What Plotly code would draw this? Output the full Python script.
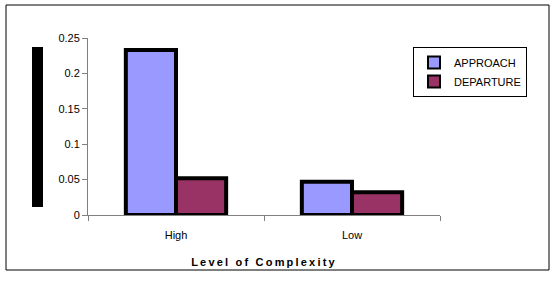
import plotly.graph_objects as go

categories = ["High", "Low"]
approach = [0.233, 0.047]
departure = [0.052, 0.032]
yticks = [0, 0.05, 0.1, 0.15, 0.2, 0.25]
ytick_labels = ["0", "0.05", "0.1", "0.15", "0.2", "0.25"]

fig = go.Figure()
fig.add_bar(x=categories, y=approach, name="APPROACH",
            marker=dict(color="#9999FF", line=dict(color="black", width=4)))
fig.add_bar(x=categories, y=departure, name="DEPARTURE",
            marker=dict(color="#993366", line=dict(color="black", width=4)))

fig.update_layout(
    width=554, height=300,
    margin=dict(l=88, r=114, t=38, b=85, autoexpand=False),
    paper_bgcolor="white", plot_bgcolor="white",
    barmode="group", bargap=0.43, bargroupgap=0,
    font=dict(family="Liberation Sans, Arial", size=11, color="black"),
    showlegend=True,
    legend=dict(x=(413-88)/352, y=(215-47)/177, xanchor="left", yanchor="top",
                bordercolor="black", borderwidth=1, bgcolor="white",
                font=dict(size=11), itemsizing="constant", itemwidth=30,
                tracegroupgap=2),
    xaxis=dict(showline=True, linecolor="#808080", linewidth=1,
               ticks="outside", tickson="boundaries", ticklen=5, tickcolor="#808080",
               ticklabelstandoff=10,
               title=dict(text='<span style="letter-spacing:2.2px"><b>Level of Complexity</b></span>',
                          font=dict(size=11), standoff=18),
               fixedrange=True),
    yaxis=dict(range=[0, 0.25], tickvals=yticks, ticktext=ytick_labels,
               showline=True, linecolor="#808080", linewidth=1,
               ticks="outside", ticklen=5, tickcolor="#808080",
               showgrid=False, zeroline=False, fixedrange=True),
    shapes=[
        dict(type="rect", xref="paper", yref="paper", x0=(6-88)/352, x1=(549-88)/352,
             y0=-(270-215)/177, y1=(215-5)/177, line=dict(color="black", width=1),
             fillcolor="rgba(0,0,0,0)", layer="below"),
        dict(type="rect", xref="paper", yref="paper", x0=(32-88)/352, x1=(43-88)/352,
             y0=(215-207)/177, y1=(215-47)/177, line=dict(width=0),
             fillcolor="black"),
    ],
)

fig.write_html("out.html", config={"displayModeBar": False},
               post_script="document.body.style.margin='0';")
